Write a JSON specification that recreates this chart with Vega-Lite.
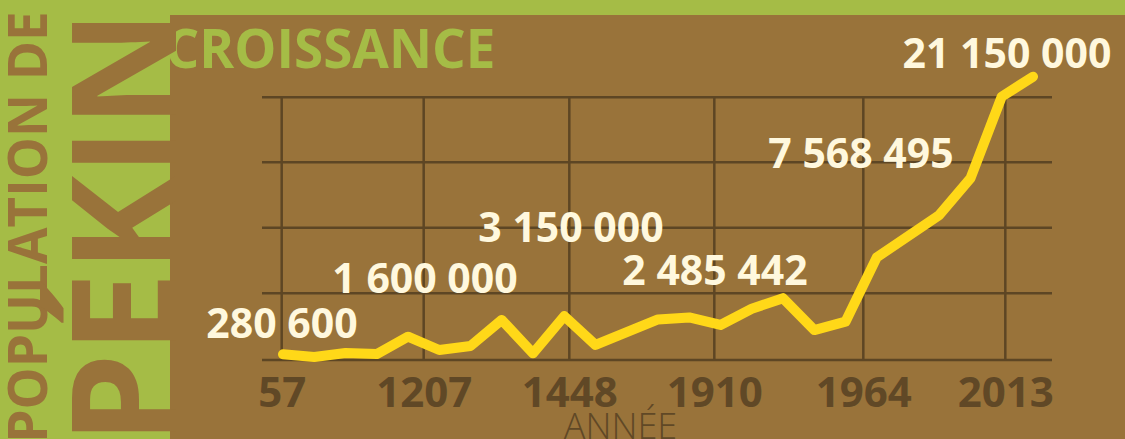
{
  "$schema": "https://vega.github.io/schema/vega-lite/v6.json",
  "width": 955,
  "height": 424,
  "autosize": {"type": "none"},
  "padding": {"left": 170, "top": 15, "right": 0, "bottom": 0},
  "background": "#a5bc46",
  "config": {
    "view": {"fill": "#99733a", "stroke": null},
    "font": "Open Sans",
    "axisX": {
      "labelExpr": "datum.value < 2 ? '57' : datum.value < 7 ? '1207' : datum.value < 11 ? '1448' : datum.value < 16 ? '1910' : datum.value < 21 ? '1964' : '2013'",
      "offset": -79,
      "domain": false,
      "ticks": false,
      "tickSize": 0,
      "grid": false,
      "labelFlush": false,
      "labelOverlap": false,
      "labelBaseline": "alphabetic",
      "labelPadding": 46,
      "labelFont": "Open Sans",
      "labelFontSize": 42,
      "labelFontWeight": "bold",
      "labelColor": "#604826",
      "titleFont": "Open Sans",
      "titleFontSize": 36,
      "titleFontWeight": 300,
      "titleColor": "#604826",
      "titleAlign": "center",
      "titleBaseline": "alphabetic",
      "titleX": 450,
      "titleY": 78
    },
    "axisY": {
      "labels": false,
      "ticks": false,
      "domain": false,
      "grid": false,
      "titleAngle": 0,
      "titleAlign": "left",
      "titleBaseline": "alphabetic",
      "titleX": -5,
      "titleY": 52,
      "titleColor": "#a5bc46",
      "titleFont": "Open Sans",
      "titleFontSize": 53,
      "titleFontWeight": "bold"
    }
  },
  "title": {
    "text": "POPULATION DE",
    "subtitle": "PÉKIN",
    "orient": "left",
    "anchor": "middle",
    "frame": "group",
    "font": "Open Sans",
    "fontSize": 53,
    "fontWeight": "bold",
    "color": "#99733a",
    "subtitleFont": "Open Sans",
    "subtitleFontSize": 145,
    "subtitleFontWeight": "bold",
    "subtitleColor": "#99733a",
    "offset": -40,
    "subtitlePadding": 3
  },
  "datasets": {
    "points": [
      {"point": 0, "population": 280600},
      {"point": 1, "population": 80000},
      {"point": 2, "population": 380000},
      {"point": 3, "population": 300000},
      {"point": 4, "population": 1600000},
      {"point": 5, "population": 600000},
      {"point": 6, "population": 900000},
      {"point": 7, "population": 2860000},
      {"point": 8, "population": 350000},
      {"point": 9, "population": 3150000},
      {"point": 10, "population": 980000},
      {"point": 12, "population": 2900000},
      {"point": 13, "population": 3050000},
      {"point": 14, "population": 2485442},
      {"point": 15, "population": 3700000},
      {"point": 16, "population": 4500000},
      {"point": 17, "population": 2100000},
      {"point": 18, "population": 2730000},
      {"point": 19, "population": 7568495},
      {"point": 21, "population": 10750000},
      {"point": 22, "population": 13510000},
      {"point": 23, "population": 19650000},
      {"point": 24, "population": 21150000}
    ],
    "years": [
      {"year": "57", "point": -0.042},
      {"year": "1207", "point": 4.502},
      {"year": "1448", "point": 9.162},
      {"year": "1910", "point": 13.802},
      {"year": "1964", "point": 18.57},
      {"year": "2013", "point": 23.114}
    ],
    "levels": [
      {"population": -150000},
      {"population": 4865000},
      {"population": 9797000},
      {"population": 14714000},
      {"population": 19602000}
    ],
    "annotations": [
      {"label": "280 600", "point": -0.032, "population": 1504000},
      {"label": "1 600 000", "point": 4.544, "population": 4887000},
      {"label": "3 150 000", "point": 9.216, "population": 8759000},
      {"label": "2 485 442", "point": 13.824, "population": 5489000},
      {"label": "7 568 495", "point": 18.496, "population": 14286000},
      {"label": "21 150 000", "point": 23.168, "population": 21805000}
    ]
  },
  "layer": [
    {
      "data": {"name": "levels"},
      "mark": {"type": "rule", "color": "#5d4624", "strokeWidth": 2.5},
      "encoding": {
        "y": {
          "field": "population",
          "type": "quantitative",
          "scale": {"domain": [-6090000, 25789000], "nice": false, "zero": false},
          "axis": {"title": "CROISSANCE"}
        },
        "x": {"datum": -0.672, "type": "quantitative", "scale": {"domain": [-3.616, 26.944], "nice": false, "zero": false}, "axis": {"title": "ANNÉE", "values": [-0.042, 4.502, 9.162, 13.802, 18.57, 23.114]}},
        "x2": {"datum": 24.608}
      }
    },
    {
      "data": {"name": "years"},
      "mark": {"type": "rule", "color": "#5d4624", "strokeWidth": 2.5},
      "encoding": {
        "x": {
          "field": "point",
          "type": "quantitative",
          "scale": {"domain": [-3.616, 26.944], "nice": false, "zero": false},
          "axis": {"title": "ANNÉE", "values": [-0.042, 4.502, 9.162, 13.802, 18.57, 23.114]}
        },
        "y": {"datum": -150000, "type": "quantitative", "scale": {"domain": [-6090000, 25789000], "nice": false, "zero": false}, "axis": {"title": "CROISSANCE"}},
        "y2": {"datum": 19602000}
      }
    },
    {
      "data": {"name": "points"},
      "mark": {"type": "line", "color": "#ffd818", "strokeWidth": 10, "strokeCap": "round", "strokeJoin": "round"},
      "encoding": {
        "x": {"field": "point", "type": "quantitative", "axis": {"title": "ANNÉE", "values": [-0.042, 4.502, 9.162, 13.802, 18.57, 23.114]}},
        "y": {"field": "population", "type": "quantitative", "axis": {"title": "CROISSANCE"}}
      }
    },
    {
      "data": {"name": "annotations"},
      "mark": {"type": "text", "color": "#fff8de", "font": "Open Sans", "fontSize": 41, "fontWeight": "bold", "align": "center", "baseline": "alphabetic"},
      "encoding": {
        "x": {"field": "point", "type": "quantitative", "axis": {"title": "ANNÉE", "values": [-0.042, 4.502, 9.162, 13.802, 18.57, 23.114]}},
        "y": {"field": "population", "type": "quantitative", "axis": {"title": "CROISSANCE"}},
        "text": {"field": "label"}
      }
    }
  ]
}
